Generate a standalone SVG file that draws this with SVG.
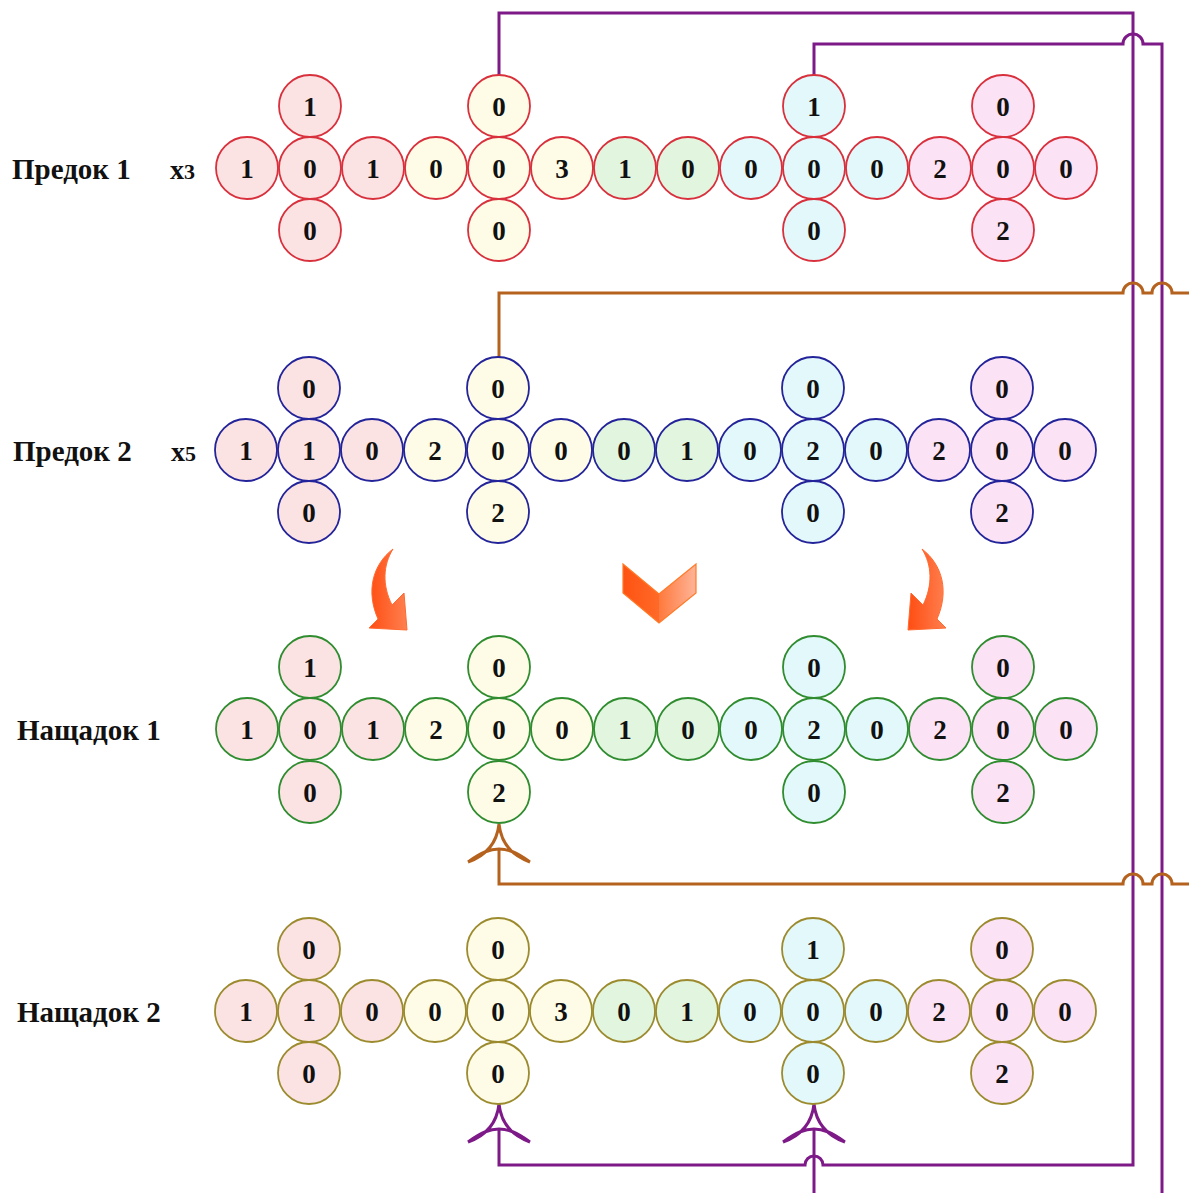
<svg xmlns="http://www.w3.org/2000/svg" width="1189" height="1193" viewBox="0 0 1189 1193">
<style>
circle{stroke-width:1.8}
.p{fill:#fbe3e3}.y{fill:#fefce6}.g{fill:#e2f5df}.c{fill:#e2f8fa}.m{fill:#fbe2f5}
.r1 circle{stroke:#d8303c}.r2 circle{stroke:#23239a}.r3 circle{stroke:#2f8c2f}.r4 circle{stroke:#9c8b2e}
text{font-family:"Liberation Serif","Times New Roman",serif;font-weight:bold;fill:#111}
.gene text{font-size:27px;text-anchor:middle}
.lbl{font-size:29px}
.pur{fill:none;stroke:#7d1a88;stroke-width:3}
.brn{fill:none;stroke:#b5621e;stroke-width:3}
</style>
<defs>
<linearGradient id="og" x1="0" y1="0" x2="1" y2="0">
<stop offset="0" stop-color="#ff4d12"/><stop offset="1" stop-color="#ff8050"/>
</linearGradient>
<linearGradient id="cg" x1="0" y1="0" x2="1" y2="0">
<stop offset="0" stop-color="#ff5212"/><stop offset="0.5" stop-color="#ff6a28"/><stop offset="0.5" stop-color="#ff7a3e"/><stop offset="1" stop-color="#ffb498"/>
</linearGradient>
</defs>
<rect width="1189" height="1193" fill="#fff"/>

<g id="labels">
<text class="lbl" x="12" y="179">Предок 1</text>
<text class="lbl" x="170" y="179" style="font-size:28px">x<tspan style="font-size:22px">3</tspan></text>
<text class="lbl" x="13" y="461">Предок 2</text>
<text class="lbl" x="171" y="461" style="font-size:28px">x<tspan style="font-size:22px">5</tspan></text>
<text class="lbl" x="17" y="740">Нащадок 1</text>
<text class="lbl" x="17" y="1022">Нащадок 2</text>
</g>

<g id="connectors">
<path class="pur" d="M499,75 V13 H1133 V1165 H823 A9 9 0 0 0 805,1165 H499 V1130"/>
<path class="pur" d="M814,75 V44 H1123 A10 10 0 0 1 1143,44 H1162 V1193"/>
<path class="pur" d="M814,1193 V1130"/>
<path class="brn" d="M499,357 V293 H1123 A10 10 0 0 1 1143,293 H1152 A10 10 0 0 1 1172,293 H1189"/>
<path class="brn" d="M1189,884 H1172 A10 10 0 0 0 1152,884 H1143 A10 10 0 0 0 1123,884 H499 V850"/>
<path class="brn" d="M499,824 Q496,852 468,862 M499,824 Q502,852 530,862 M468,862 C482,852 490,849 499,849 C508,849 516,852 530,862"/>
<path class="pur" d="M499,1104 Q496,1132 468,1142 M499,1104 Q502,1132 530,1142 M468,1142 C482,1132 490,1129 499,1129 C508,1129 516,1132 530,1142"/>
<path class="pur" d="M814,1104 Q811,1132 783,1142 M814,1104 Q817,1132 845,1142 M783,1142 C797,1132 805,1129 814,1129 C823,1129 831,1132 845,1142"/>
</g>

<g id="arrows">
<path fill="url(#og)" stroke="#ff6a30" stroke-width="1" d="M393,549 C372,565 366,592 378,619 L369,628 L407,630 L404,593 L392,605 C382,585 383,565 393,549 Z"/>
<path fill="url(#og)" stroke="#ff6a30" stroke-width="1" d="M922,549 C943,565 949,592 937,619 L946,628 L908,630 L911,593 L923,605 C933,585 932,565 922,549 Z"/>
<path fill="url(#cg)" stroke="#ff7a28" stroke-width="1.2" d="M623,564 L659,594 L696,564 L696,593 L659,623 L623,593 Z"/>
</g>

<g id="parent1" class="gene r1">
<g id="p1-0"><circle class="p" cx="247" cy="168" r="31"/><text x="247" y="178">1</text></g>
<g id="p1-1"><circle class="p" cx="310" cy="168" r="31"/><text x="310" y="178">0</text></g>
<g id="p1-2"><circle class="p" cx="373" cy="168" r="31"/><text x="373" y="178">1</text></g>
<g id="p1-3"><circle class="y" cx="436" cy="168" r="31"/><text x="436" y="178">0</text></g>
<g id="p1-4"><circle class="y" cx="499" cy="168" r="31"/><text x="499" y="178">0</text></g>
<g id="p1-5"><circle class="y" cx="562" cy="168" r="31"/><text x="562" y="178">3</text></g>
<g id="p1-6"><circle class="g" cx="625" cy="168" r="31"/><text x="625" y="178">1</text></g>
<g id="p1-7"><circle class="g" cx="688" cy="168" r="31"/><text x="688" y="178">0</text></g>
<g id="p1-8"><circle class="c" cx="751" cy="168" r="31"/><text x="751" y="178">0</text></g>
<g id="p1-9"><circle class="c" cx="814" cy="168" r="31"/><text x="814" y="178">0</text></g>
<g id="p1-10"><circle class="c" cx="877" cy="168" r="31"/><text x="877" y="178">0</text></g>
<g id="p1-11"><circle class="m" cx="940" cy="168" r="31"/><text x="940" y="178">2</text></g>
<g id="p1-12"><circle class="m" cx="1003" cy="168" r="31"/><text x="1003" y="178">0</text></g>
<g id="p1-13"><circle class="m" cx="1066" cy="168" r="31"/><text x="1066" y="178">0</text></g>
<g id="p1-u1"><circle class="p" cx="310" cy="106" r="31"/><text x="310" y="116">1</text></g>
<g id="p1-u4"><circle class="y" cx="499" cy="106" r="31"/><text x="499" y="116">0</text></g>
<g id="p1-u9"><circle class="c" cx="814" cy="106" r="31"/><text x="814" y="116">1</text></g>
<g id="p1-u12"><circle class="m" cx="1003" cy="106" r="31"/><text x="1003" y="116">0</text></g>
<g id="p1-d1"><circle class="p" cx="310" cy="230" r="31"/><text x="310" y="240">0</text></g>
<g id="p1-d4"><circle class="y" cx="499" cy="230" r="31"/><text x="499" y="240">0</text></g>
<g id="p1-d9"><circle class="c" cx="814" cy="230" r="31"/><text x="814" y="240">0</text></g>
<g id="p1-d12"><circle class="m" cx="1003" cy="230" r="31"/><text x="1003" y="240">2</text></g>
</g>

<g id="parent2" class="gene r2">
<g id="p2-0"><circle class="p" cx="246" cy="450" r="31"/><text x="246" y="460">1</text></g>
<g id="p2-1"><circle class="p" cx="309" cy="450" r="31"/><text x="309" y="460">1</text></g>
<g id="p2-2"><circle class="p" cx="372" cy="450" r="31"/><text x="372" y="460">0</text></g>
<g id="p2-3"><circle class="y" cx="435" cy="450" r="31"/><text x="435" y="460">2</text></g>
<g id="p2-4"><circle class="y" cx="498" cy="450" r="31"/><text x="498" y="460">0</text></g>
<g id="p2-5"><circle class="y" cx="561" cy="450" r="31"/><text x="561" y="460">0</text></g>
<g id="p2-6"><circle class="g" cx="624" cy="450" r="31"/><text x="624" y="460">0</text></g>
<g id="p2-7"><circle class="g" cx="687" cy="450" r="31"/><text x="687" y="460">1</text></g>
<g id="p2-8"><circle class="c" cx="750" cy="450" r="31"/><text x="750" y="460">0</text></g>
<g id="p2-9"><circle class="c" cx="813" cy="450" r="31"/><text x="813" y="460">2</text></g>
<g id="p2-10"><circle class="c" cx="876" cy="450" r="31"/><text x="876" y="460">0</text></g>
<g id="p2-11"><circle class="m" cx="939" cy="450" r="31"/><text x="939" y="460">2</text></g>
<g id="p2-12"><circle class="m" cx="1002" cy="450" r="31"/><text x="1002" y="460">0</text></g>
<g id="p2-13"><circle class="m" cx="1065" cy="450" r="31"/><text x="1065" y="460">0</text></g>
<g id="p2-u1"><circle class="p" cx="309" cy="388" r="31"/><text x="309" y="398">0</text></g>
<g id="p2-u4"><circle class="y" cx="498" cy="388" r="31"/><text x="498" y="398">0</text></g>
<g id="p2-u9"><circle class="c" cx="813" cy="388" r="31"/><text x="813" y="398">0</text></g>
<g id="p2-u12"><circle class="m" cx="1002" cy="388" r="31"/><text x="1002" y="398">0</text></g>
<g id="p2-d1"><circle class="p" cx="309" cy="512" r="31"/><text x="309" y="522">0</text></g>
<g id="p2-d4"><circle class="y" cx="498" cy="512" r="31"/><text x="498" y="522">2</text></g>
<g id="p2-d9"><circle class="c" cx="813" cy="512" r="31"/><text x="813" y="522">0</text></g>
<g id="p2-d12"><circle class="m" cx="1002" cy="512" r="31"/><text x="1002" y="522">2</text></g>
</g>

<g id="child1" class="gene r3">
<g id="c1-0"><circle class="p" cx="247" cy="729" r="31"/><text x="247" y="739">1</text></g>
<g id="c1-1"><circle class="p" cx="310" cy="729" r="31"/><text x="310" y="739">0</text></g>
<g id="c1-2"><circle class="p" cx="373" cy="729" r="31"/><text x="373" y="739">1</text></g>
<g id="c1-3"><circle class="y" cx="436" cy="729" r="31"/><text x="436" y="739">2</text></g>
<g id="c1-4"><circle class="y" cx="499" cy="729" r="31"/><text x="499" y="739">0</text></g>
<g id="c1-5"><circle class="y" cx="562" cy="729" r="31"/><text x="562" y="739">0</text></g>
<g id="c1-6"><circle class="g" cx="625" cy="729" r="31"/><text x="625" y="739">1</text></g>
<g id="c1-7"><circle class="g" cx="688" cy="729" r="31"/><text x="688" y="739">0</text></g>
<g id="c1-8"><circle class="c" cx="751" cy="729" r="31"/><text x="751" y="739">0</text></g>
<g id="c1-9"><circle class="c" cx="814" cy="729" r="31"/><text x="814" y="739">2</text></g>
<g id="c1-10"><circle class="c" cx="877" cy="729" r="31"/><text x="877" y="739">0</text></g>
<g id="c1-11"><circle class="m" cx="940" cy="729" r="31"/><text x="940" y="739">2</text></g>
<g id="c1-12"><circle class="m" cx="1003" cy="729" r="31"/><text x="1003" y="739">0</text></g>
<g id="c1-13"><circle class="m" cx="1066" cy="729" r="31"/><text x="1066" y="739">0</text></g>
<g id="c1-u1"><circle class="p" cx="310" cy="667" r="31"/><text x="310" y="677">1</text></g>
<g id="c1-u4"><circle class="y" cx="499" cy="667" r="31"/><text x="499" y="677">0</text></g>
<g id="c1-u9"><circle class="c" cx="814" cy="667" r="31"/><text x="814" y="677">0</text></g>
<g id="c1-u12"><circle class="m" cx="1003" cy="667" r="31"/><text x="1003" y="677">0</text></g>
<g id="c1-d1"><circle class="p" cx="310" cy="792" r="31"/><text x="310" y="802">0</text></g>
<g id="c1-d4"><circle class="y" cx="499" cy="792" r="31"/><text x="499" y="802">2</text></g>
<g id="c1-d9"><circle class="c" cx="814" cy="792" r="31"/><text x="814" y="802">0</text></g>
<g id="c1-d12"><circle class="m" cx="1003" cy="792" r="31"/><text x="1003" y="802">2</text></g>
</g>

<g id="child2" class="gene r4">
<g id="c2-0"><circle class="p" cx="246" cy="1011" r="31"/><text x="246" y="1021">1</text></g>
<g id="c2-1"><circle class="p" cx="309" cy="1011" r="31"/><text x="309" y="1021">1</text></g>
<g id="c2-2"><circle class="p" cx="372" cy="1011" r="31"/><text x="372" y="1021">0</text></g>
<g id="c2-3"><circle class="y" cx="435" cy="1011" r="31"/><text x="435" y="1021">0</text></g>
<g id="c2-4"><circle class="y" cx="498" cy="1011" r="31"/><text x="498" y="1021">0</text></g>
<g id="c2-5"><circle class="y" cx="561" cy="1011" r="31"/><text x="561" y="1021">3</text></g>
<g id="c2-6"><circle class="g" cx="624" cy="1011" r="31"/><text x="624" y="1021">0</text></g>
<g id="c2-7"><circle class="g" cx="687" cy="1011" r="31"/><text x="687" y="1021">1</text></g>
<g id="c2-8"><circle class="c" cx="750" cy="1011" r="31"/><text x="750" y="1021">0</text></g>
<g id="c2-9"><circle class="c" cx="813" cy="1011" r="31"/><text x="813" y="1021">0</text></g>
<g id="c2-10"><circle class="c" cx="876" cy="1011" r="31"/><text x="876" y="1021">0</text></g>
<g id="c2-11"><circle class="m" cx="939" cy="1011" r="31"/><text x="939" y="1021">2</text></g>
<g id="c2-12"><circle class="m" cx="1002" cy="1011" r="31"/><text x="1002" y="1021">0</text></g>
<g id="c2-13"><circle class="m" cx="1065" cy="1011" r="31"/><text x="1065" y="1021">0</text></g>
<g id="c2-u1"><circle class="p" cx="309" cy="949" r="31"/><text x="309" y="959">0</text></g>
<g id="c2-u4"><circle class="y" cx="498" cy="949" r="31"/><text x="498" y="959">0</text></g>
<g id="c2-u9"><circle class="c" cx="813" cy="949" r="31"/><text x="813" y="959">1</text></g>
<g id="c2-u12"><circle class="m" cx="1002" cy="949" r="31"/><text x="1002" y="959">0</text></g>
<g id="c2-d1"><circle class="p" cx="309" cy="1073" r="31"/><text x="309" y="1083">0</text></g>
<g id="c2-d4"><circle class="y" cx="498" cy="1073" r="31"/><text x="498" y="1083">0</text></g>
<g id="c2-d9"><circle class="c" cx="813" cy="1073" r="31"/><text x="813" y="1083">0</text></g>
<g id="c2-d12"><circle class="m" cx="1002" cy="1073" r="31"/><text x="1002" y="1083">2</text></g>
</g>
</svg>
